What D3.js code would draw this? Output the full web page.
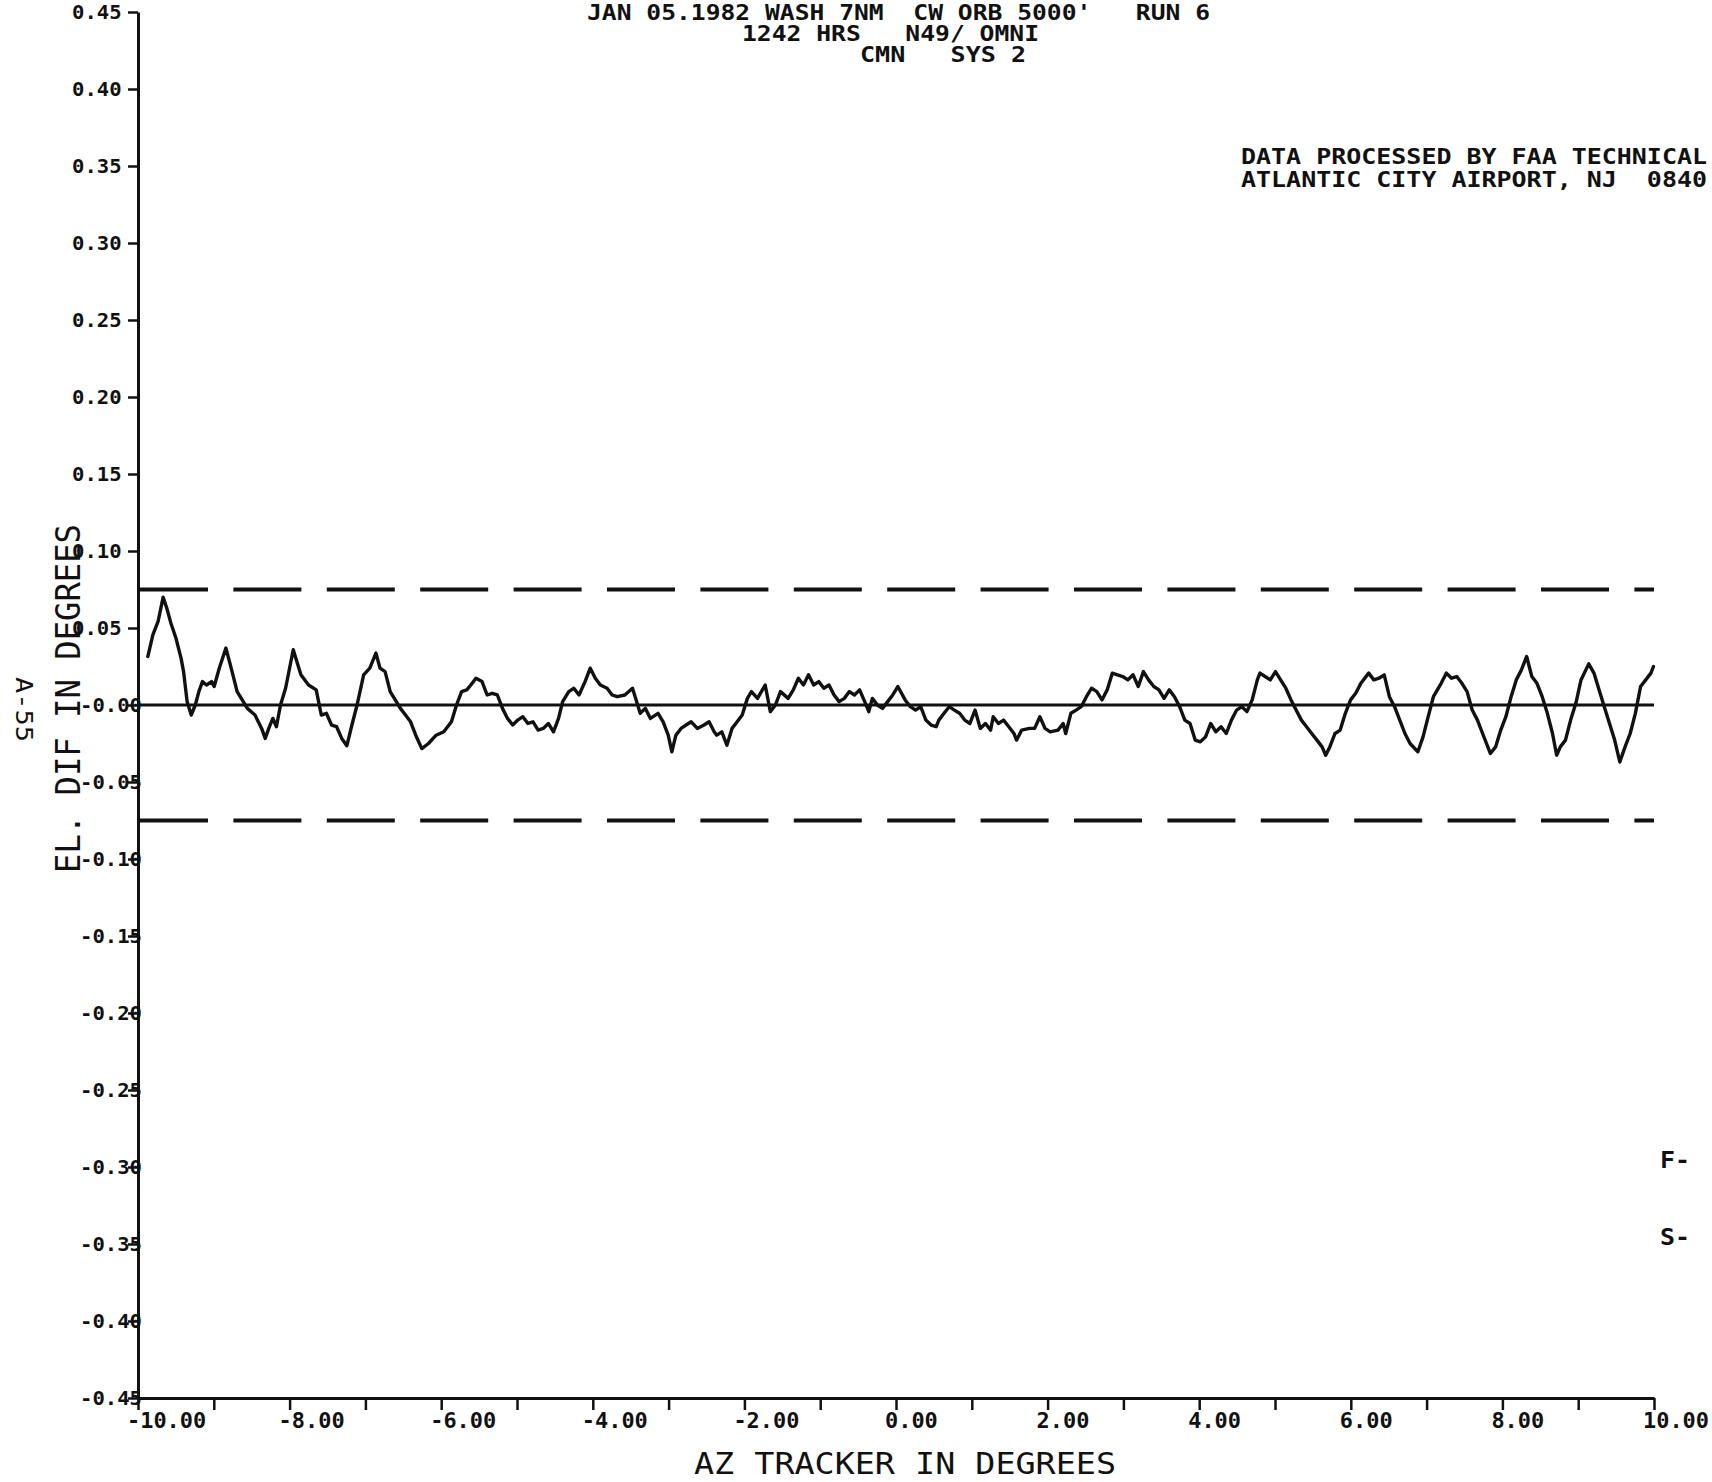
<!DOCTYPE html>
<html>
<head>
<meta charset="utf-8">
<script src="https://cdn.jsdelivr.net/npm/d3@7"></script>
<style>
  html, body { margin: 0; padding: 0; background: #fff; overflow: hidden; }
  svg { display: block; }
  text { font-family: "DejaVu Sans Mono", monospace; fill: #111; white-space: pre; }
</style>
</head>
<body>
<svg id="chart" width="1712" height="1482"></svg>
<script>
// Azimuth tracker position (degrees) of each plotted sample
const azTracker = [
  -9.870,-9.803,-9.735,-9.668,-9.621,-9.567,-9.500,-9.432,-9.399,-9.352,
  -9.298,-9.244,-9.197,-9.150,-9.096,-9.029,-8.995,-8.928,-8.840,-8.759,
  -8.692,-8.611,-8.557,-8.457,-8.369,-8.322,-8.275,-8.221,-8.174,-8.120,
  -8.053,-7.952,-7.851,-7.750,-7.649,-7.582,-7.514,-7.447,-7.380,-7.312,
  -7.245,-7.178,-7.110,-7.023,-6.942,-6.861,-6.807,-6.740,-6.673,-6.606,
  -6.538,-6.471,-6.404,-6.336,-6.256,-6.168,-6.067,-5.966,-5.865,-5.798,
  -5.731,-5.663,-5.609,-5.542,-5.461,-5.394,-5.327,-5.259,-5.192,-5.125,
  -5.057,-4.990,-4.923,-4.856,-4.788,-4.721,-4.654,-4.586,-4.519,-4.452,
  -4.398,-4.317,-4.250,-4.182,-4.102,-4.034,-3.967,-3.900,-3.812,-3.745,
  -3.678,-3.577,-3.476,-3.408,-3.375,-3.307,-3.240,-3.139,-3.072,-3.005,
  -2.957,-2.904,-2.836,-2.769,-2.702,-2.621,-2.533,-2.466,-2.399,-2.365,
  -2.298,-2.231,-2.163,-2.096,-2.029,-1.961,-1.907,-1.827,-1.726,-1.658,
  -1.591,-1.524,-1.423,-1.355,-1.288,-1.221,-1.154,-1.086,-1.019,-0.952,
  -0.884,-0.817,-0.750,-0.682,-0.615,-0.548,-0.480,-0.413,-0.359,-0.312,
  -0.245,-0.178,-0.110,-0.043, 0.024,
   0.121, 0.189, 0.258, 0.326, 0.394, 0.463, 0.531, 0.565, 0.634, 0.702,
   0.770, 0.839, 0.907, 0.975, 1.043, 1.112, 1.180, 1.248, 1.283, 1.351,
   1.419, 1.488, 1.556, 1.590, 1.658, 1.761, 1.829, 1.898, 1.966, 2.034,
   2.137, 2.205, 2.239, 2.307, 2.376, 2.444, 2.512, 2.581, 2.649, 2.717,
   2.786, 2.854, 2.922, 2.991, 3.059, 3.127, 3.196, 3.264, 3.332, 3.401,
   3.469, 3.537, 3.605, 3.674, 3.742, 3.810, 3.879, 3.947, 4.015, 4.084,
   4.152, 4.220, 4.289, 4.357, 4.425, 4.494, 4.562, 4.630, 4.699, 4.767,
   4.801, 4.869, 4.938, 5.006, 5.074, 5.143, 5.211, 5.279, 5.348, 5.416,
   5.484, 5.553, 5.621, 5.669, 5.723, 5.792, 5.860, 5.928, 5.997, 6.065,
   6.133, 6.236, 6.304, 6.372, 6.441, 6.509, 6.577, 6.646, 6.714, 6.782,
   6.885, 6.953, 7.021, 7.090, 7.192, 7.261, 7.329, 7.397, 7.466, 7.534,
   7.602, 7.671, 7.739, 7.842, 7.910, 7.978, 8.046, 8.115, 8.183, 8.251,
   8.320, 8.388, 8.456, 8.525, 8.593, 8.661, 8.716, 8.764, 8.832, 8.900,
   8.969, 9.037, 9.139, 9.208, 9.276, 9.344, 9.413, 9.481, 9.549, 9.618,
   9.686, 9.754, 9.823, 9.891, 9.959, 9.993
];

// Elevation difference (degrees) at each sample
const elDif = [
   0.0315, 0.0457, 0.0543, 0.0700, 0.0630, 0.0533, 0.0435, 0.0304, 0.0217, 0.0022,
  -0.0065, 0.0000, 0.0087, 0.0152, 0.0130, 0.0152, 0.0120, 0.0239, 0.0370, 0.0217,
   0.0087, 0.0022,-0.0022,-0.0065,-0.0152,-0.0217,-0.0152,-0.0087,-0.0141, 0.0000,
   0.0109, 0.0359, 0.0196, 0.0130, 0.0098,-0.0065,-0.0054,-0.0130,-0.0141,-0.0217,
  -0.0265,-0.0130, 0.0000, 0.0196, 0.0239, 0.0337, 0.0239, 0.0217, 0.0087, 0.0033,
  -0.0022,-0.0065,-0.0109,-0.0196,-0.0283,-0.0250,-0.0196,-0.0174,-0.0109, 0.0000,
   0.0087, 0.0098, 0.0130, 0.0174, 0.0152, 0.0065, 0.0076, 0.0065,-0.0022,-0.0087,
  -0.0130,-0.0098,-0.0076,-0.0120,-0.0109,-0.0163,-0.0152,-0.0120,-0.0174,-0.0087,
   0.0022, 0.0087, 0.0109, 0.0065, 0.0152, 0.0239, 0.0174, 0.0130, 0.0109, 0.0065,
   0.0054, 0.0065, 0.0109, 0.0000,-0.0054,-0.0022,-0.0087,-0.0054,-0.0109,-0.0196,
  -0.0304,-0.0196,-0.0152,-0.0130,-0.0109,-0.0152,-0.0130,-0.0109,-0.0174,-0.0196,
  -0.0174,-0.0261,-0.0152,-0.0109,-0.0065, 0.0043, 0.0087, 0.0043, 0.0130,-0.0043,
   0.0000, 0.0087, 0.0043, 0.0098, 0.0174, 0.0130, 0.0196, 0.0130, 0.0152, 0.0109,
   0.0130, 0.0065, 0.0022, 0.0043, 0.0087, 0.0065, 0.0098, 0.0022,-0.0043, 0.0043,
   0.0000,-0.0022, 0.0022, 0.0065, 0.0120,
   0.0033,-0.0011,-0.0033,-0.0011,-0.0098,-0.0130,-0.0141,-0.0098,-0.0054,-0.0011,
  -0.0033,-0.0054,-0.0098,-0.0120,-0.0033,-0.0152,-0.0120,-0.0163,-0.0076,-0.0120,
  -0.0098,-0.0141,-0.0185,-0.0228,-0.0163,-0.0152,-0.0152,-0.0076,-0.0152,-0.0174,
  -0.0163,-0.0120,-0.0185,-0.0054,-0.0033,-0.0011, 0.0054, 0.0109, 0.0087, 0.0033,
   0.0098, 0.0207, 0.0196, 0.0185, 0.0163, 0.0196, 0.0120, 0.0217, 0.0163, 0.0120,
   0.0098, 0.0043, 0.0098, 0.0054,-0.0011,-0.0098,-0.0120,-0.0228,-0.0239,-0.0207,
  -0.0120,-0.0174,-0.0141,-0.0185,-0.0098,-0.0033,-0.0011,-0.0043, 0.0033, 0.0163,
   0.0207, 0.0185, 0.0163, 0.0217, 0.0163, 0.0109, 0.0033,-0.0033,-0.0098,-0.0141,
  -0.0185,-0.0228,-0.0272,-0.0326,-0.0272,-0.0185,-0.0163,-0.0054, 0.0033, 0.0076,
   0.0141, 0.0207, 0.0163, 0.0174, 0.0196, 0.0054,-0.0011,-0.0098,-0.0185,-0.0250,
  -0.0304,-0.0207,-0.0076, 0.0054, 0.0141, 0.0207, 0.0174, 0.0185, 0.0141, 0.0087,
  -0.0033,-0.0098,-0.0185,-0.0315,-0.0272,-0.0163,-0.0076, 0.0054, 0.0163, 0.0228,
   0.0315, 0.0185, 0.0141, 0.0054,-0.0054,-0.0185,-0.0326,-0.0272,-0.0228,-0.0098,
   0.0011, 0.0163, 0.0267, 0.0207, 0.0098,-0.0011,-0.0120,-0.0228,-0.0370,-0.0272,
  -0.0185,-0.0054, 0.0120, 0.0163, 0.0207, 0.0250
];

// Tolerance limits drawn as dashed lines, and the reference line
const toleranceLimits = [0.075, -0.075];
const referenceLevel = [0];

// Axis ticks and their printed labels
const xTickValues = d3.range(-10, 11, 1);
const xLabelValues = [-10, -8, -6, -4, -2, 0, 2, 4, 6, 8, 10];
const xTickLabels = ["-10.00", "-8.00", "-6.00", "-4.00", "-2.00", "0.00", "2.00", "4.00", "6.00", "8.00", "10.00"];
const yTickValues = [0.45, 0.40, 0.35, 0.30, 0.25, 0.20, 0.15, 0.10, 0.05, 0.00,
                     -0.05, -0.10, -0.15, -0.20, -0.25, -0.30, -0.35, -0.40, -0.45];
const yTickLabels = ["0.45", "0.40", "0.35", "0.30", "0.25", "0.20", "0.15", "0.10", "0.05", "-0.00",
                     "-0.05", "-0.10", "-0.15", "-0.20", "-0.25", "-0.30", "-0.35", "-0.40", "-0.45"];

// Header and annotation text
const titleLines = ["JAN 05.1982 WASH 7NM  CW ORB 5000'   RUN 6", "1242 HRS   N49/ OMNI", "CMN   SYS 2"];
const creditLines = ["DATA PROCESSED BY FAA TECHNICAL", "ATLANTIC CITY AIRPORT, NJ  0840"];
const legendLines = ["F-", "S-"];
const xAxisTitle = "AZ TRACKER IN DEGREES";
const yAxisTitle = "EL. DIF IN DEGREES";
const pageNumber = "A-55";

const svg = d3.select("#chart");
const ink = "#111";

const x = d3.scaleLinear().domain([-10, 10]).range([138, 1654]);
const y = d3.scaleLinear().domain([-0.45, 0.45]).range([1398, 12]);

// Tolerance band edges
svg.append("g").selectAll("line").data(toleranceLimits).join("line")
  .attr("x1", x(-10) + 2).attr("x2", x(10))
  .attr("y1", d => y(d)).attr("y2", d => y(d))
  .attr("stroke", ink).attr("stroke-width", 4)
  .attr("stroke-dasharray", "68,25.4");

// Zero reference line
svg.append("g").selectAll("line").data(referenceLevel).join("line")
  .attr("x1", x(-10)).attr("x2", x(10))
  .attr("y1", d => y(d)).attr("y2", d => y(d))
  .attr("stroke", ink).attr("stroke-width", 3);

// Measured elevation difference trace
const samples = azTracker.map((a, i) => [a, elDif[i]]);
svg.append("path")
  .datum(samples)
  .attr("fill", "none")
  .attr("stroke", ink)
  .attr("stroke-width", 3.4)
  .attr("stroke-linejoin", "round")
  .attr("stroke-linecap", "round")
  .attr("d", d3.line().x(d => x(d[0])).y(d => y(d[1])));

// Y axis: spine and ticks
const yAxis = svg.append("g")
  .attr("transform", `translate(${x(-10)},0)`)
  .call(d3.axisLeft(y).tickValues(yTickValues).tickSize(10).tickSizeOuter(0).tickFormat(""));
yAxis.select(".domain").attr("stroke", ink).attr("stroke-width", 3);
yAxis.selectAll(".tick line").attr("stroke", ink).attr("stroke-width", 2.5);

svg.append("g").selectAll("text").data(yTickValues).join("text")
  .attr("x", (d, i) => yTickLabels[i].startsWith("-") ? 80 : 72)
  .attr("y", d => y(d) + 7)
  .attr("font-size", 19)
  .attr("font-weight", "bold")
  .attr("textLength", (d, i) => yTickLabels[i].length * 12.4)
  .attr("lengthAdjust", "spacingAndGlyphs")
  .text((d, i) => yTickLabels[i]);

// X axis: spine and ticks
const xAxis = svg.append("g")
  .attr("transform", `translate(0,${y(-0.45)})`)
  .call(d3.axisBottom(x).tickValues(xTickValues).tickSize(12).tickSizeOuter(0).tickFormat(""));
xAxis.select(".domain").attr("stroke", ink).attr("stroke-width", 3);
xAxis.selectAll(".tick line").attr("stroke", ink).attr("stroke-width", 2.5);

svg.append("g").selectAll("text").data(xLabelValues).join("text")
  .attr("x", d => x(d) - 11)
  .attr("y", 1428)
  .attr("font-size", 22)
  .attr("font-weight", "bold")
  .attr("textLength", (d, i) => xTickLabels[i].length * 13.2)
  .attr("lengthAdjust", "spacingAndGlyphs")
  .text((d, i) => xTickLabels[i]);

// Axis titles
svg.append("text")
  .attr("x", 694).attr("y", 1474)
  .attr("font-size", 31)
  .attr("textLength", 422).attr("lengthAdjust", "spacingAndGlyphs")
  .text(xAxisTitle);

svg.append("text")
  .attr("transform", "translate(80,873) rotate(-90)")
  .attr("font-size", 34)
  .attr("textLength", 349).attr("lengthAdjust", "spacingAndGlyphs")
  .text(yAxisTitle);

svg.append("text")
  .attr("transform", "translate(16,677) rotate(90)")
  .attr("font-size", 23)
  .attr("textLength", 65).attr("lengthAdjust", "spacingAndGlyphs")
  .text(pageNumber);

// Run header
const titleLayout = [
  { x: 587, y: 20, w: 623 },
  { x: 742, y: 41, w: 297 },
  { x: 860, y: 62, w: 166 }
];
svg.append("g").selectAll("text").data(titleLines).join("text")
  .attr("x", (d, i) => titleLayout[i].x)
  .attr("y", (d, i) => titleLayout[i].y)
  .attr("font-size", 21)
  .attr("font-weight", "bold")
  .attr("textLength", (d, i) => titleLayout[i].w)
  .attr("lengthAdjust", "spacingAndGlyphs")
  .text(d => d);

// Processing credit
svg.append("g").selectAll("text").data(creditLines).join("text")
  .attr("x", 1241)
  .attr("y", (d, i) => 164 + i * 23)
  .attr("font-size", 21)
  .attr("font-weight", "bold")
  .attr("textLength", 466)
  .attr("lengthAdjust", "spacingAndGlyphs")
  .text(d => d);

// Symbol key at the right edge
svg.append("g").selectAll("text").data(legendLines).join("text")
  .attr("x", 1660)
  .attr("y", (d, i) => 1168 + i * 77)
  .attr("font-size", 23)
  .attr("font-weight", "bold")
  .attr("textLength", 30)
  .attr("lengthAdjust", "spacingAndGlyphs")
  .text(d => d);
</script>
</body>
</html>
